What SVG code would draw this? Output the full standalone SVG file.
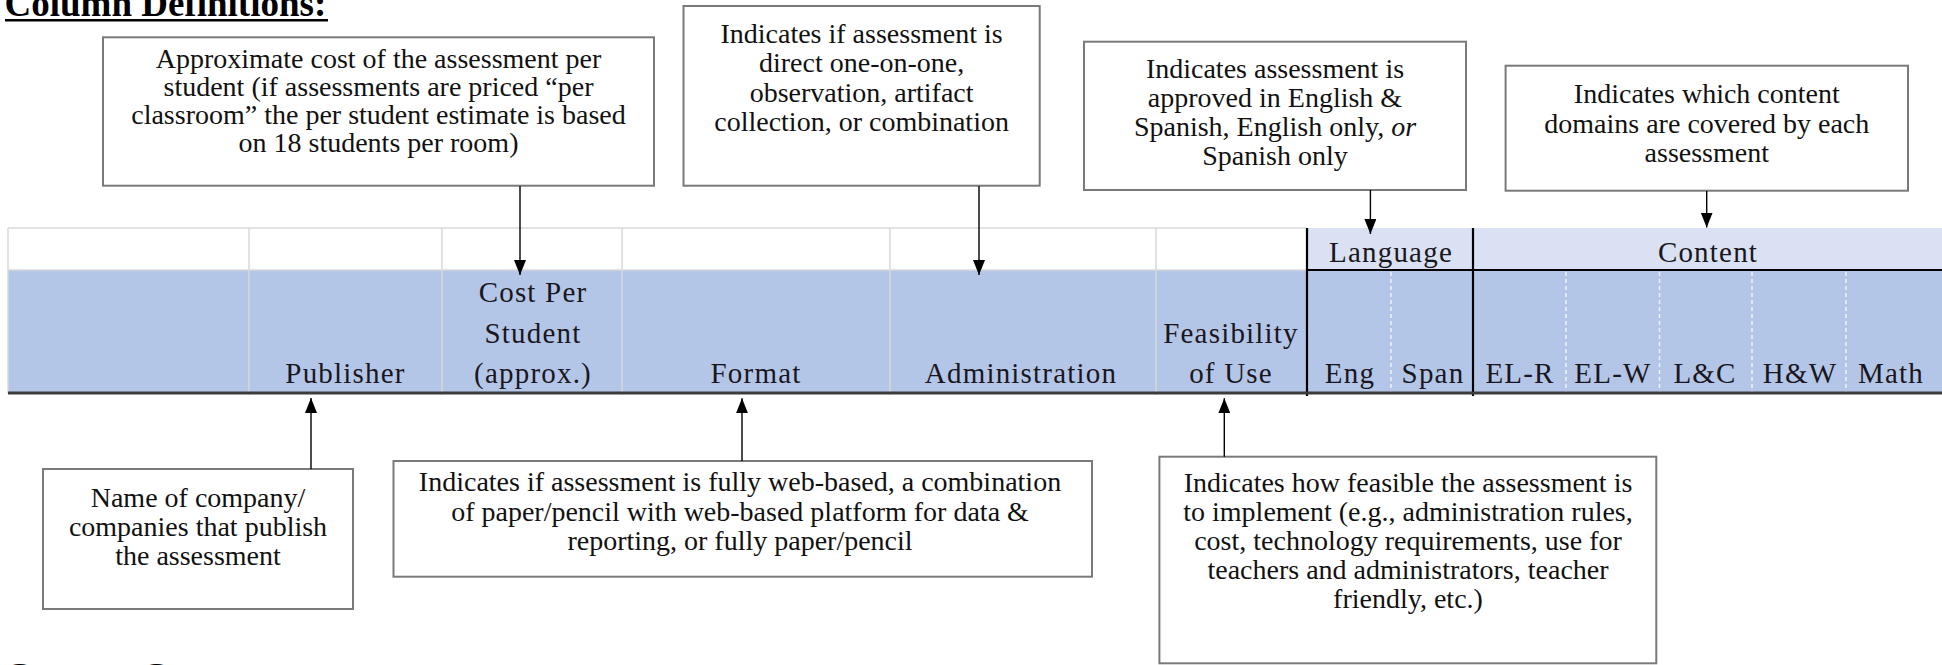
<svg xmlns="http://www.w3.org/2000/svg" width="1942" height="665" viewBox="0 0 1942 665">
<style>
  .box { fill: #ffffff; stroke: #7a7a7a; stroke-width: 2; }
  .bt { font-family: "Liberation Serif", "Times New Roman", serif; font-size: 28px; fill: #111111; text-anchor: middle; }
  .ht { font-family: "Liberation Serif", "Times New Roman", serif; font-size: 29px; letter-spacing: 1.2px; fill: #1a1620; text-anchor: middle; }
  .title { font-family: "Liberation Serif", "Times New Roman", serif; font-size: 37px; font-weight: bold; fill: #000000; }
  .conn { stroke: #000000; stroke-width: 1.4; fill: none; marker-end: url(#arrow); }
  .grid { stroke: #d9d9d9; stroke-width: 1.5; }
  .dash { stroke: #f2f2f2; stroke-width: 1.5; stroke-dasharray: 4 3; }
  .thick { stroke: #000000; stroke-width: 2.2; }
</style>
<defs>
  <marker id="arrow" viewBox="0 0 15 12" markerWidth="15" markerHeight="12" refX="15" refY="6" orient="auto" markerUnits="userSpaceOnUse">
    <path d="M0,0 L15,6 L0,12 z" fill="#000000"/>
  </marker>
</defs>
<rect x="0" y="0" width="1942" height="665" fill="#ffffff"/>

<g id="title">
  <text class="title" x="4.5" y="15.5">Column Definitions:</text>
  <line x1="5" y1="20.3" x2="328" y2="20.3" stroke="#000000" stroke-width="2.6"/>
</g>

<g id="header-table">
  <rect x="8" y="270" width="1934" height="123" fill="#b4c6e7"/>
  <rect x="1307" y="228" width="635" height="42" fill="#d9e1f2"/>
  <line class="grid" x1="8" y1="228" x2="1307" y2="228"/>
  <line class="grid" x1="8" y1="228" x2="8" y2="393"/>
  <line class="grid" x1="249" y1="228" x2="249" y2="395"/>
  <line class="grid" x1="442" y1="228" x2="442" y2="395"/>
  <line class="grid" x1="622" y1="228" x2="622" y2="395"/>
  <line class="grid" x1="890" y1="228" x2="890" y2="395"/>
  <line class="grid" x1="1156" y1="228" x2="1156" y2="395"/>
  <line class="grid" x1="8" y1="270" x2="1307" y2="270" stroke="#e4e4e4"/>
  <line class="dash" x1="1391" y1="272" x2="1391" y2="392"/>
  <line class="dash" x1="1566" y1="272" x2="1566" y2="392"/>
  <line class="dash" x1="1659.5" y1="272" x2="1659.5" y2="392"/>
  <line class="dash" x1="1752" y1="272" x2="1752" y2="392"/>
  <line class="dash" x1="1846" y1="272" x2="1846" y2="392"/>
  <line class="thick" x1="1307" y1="270" x2="1942" y2="270"/>
  <line class="thick" x1="1307" y1="228" x2="1307" y2="396"/>
  <line class="thick" x1="1473" y1="228" x2="1473" y2="396"/>
  <line x1="8" y1="393" x2="1942" y2="393" stroke="#3c3c3c" stroke-width="3"/>
  <text class="ht" x="1391" y="261.7">Language</text>
  <text class="ht" x="1708" y="261.7">Content</text>
  <text class="ht" x="345.5" y="383.3">Publisher</text>
  <text class="ht" x="533" y="301.7">Cost Per</text>
  <text class="ht" x="533" y="342.7">Student</text>
  <text class="ht" x="533" y="383.3">(approx.)</text>
  <text class="ht" x="756" y="383.3">Format</text>
  <text class="ht" x="1021" y="383.3">Administration</text>
  <text class="ht" x="1231" y="343.3">Feasibility</text>
  <text class="ht" x="1231" y="383.3">of Use</text>
  <text class="ht" x="1350" y="383.3">Eng</text>
  <text class="ht" x="1433" y="383.3">Span</text>
  <text class="ht" x="1520" y="383.3">EL-R</text>
  <text class="ht" x="1613" y="383.3">EL-W</text>
  <text class="ht" x="1705" y="383.3">L&amp;C</text>
  <text class="ht" x="1800" y="383.3">H&amp;W</text>
  <text class="ht" x="1891" y="383.3">Math</text>
</g>

<g id="cost-note">
  <rect class="box" x="103" y="37.3" width="551" height="148.4"/>
  <text class="bt" x="378.5" y="68">Approximate cost of the assessment per</text>
  <text class="bt" x="378.5" y="96">student (if assessments are priced “per</text>
  <text class="bt" x="378.5" y="124">classroom” the per student estimate is based</text>
  <text class="bt" x="378.5" y="152">on 18 students per room)</text>
</g>

<g id="administration-note">
  <rect class="box" x="683.5" y="6" width="356.2" height="179.7"/>
  <text class="bt" x="861.6" y="42.5">Indicates if assessment is</text>
  <text class="bt" x="861.6" y="72">direct one-on-one,</text>
  <text class="bt" x="861.6" y="101.5">observation, artifact</text>
  <text class="bt" x="861.6" y="131">collection, or combination</text>
</g>

<g id="language-note">
  <rect class="box" x="1084" y="41.7" width="382" height="148.3"/>
  <text class="bt" x="1275" y="78">Indicates assessment is</text>
  <text class="bt" x="1275" y="107">approved in English &amp;</text>
  <text class="bt" x="1275" y="136">Spanish, English only, <tspan font-style="italic">or</tspan></text>
  <text class="bt" x="1275" y="165">Spanish only</text>
</g>

<g id="content-note">
  <rect class="box" x="1505.6" y="65.7" width="402.4" height="125"/>
  <text class="bt" x="1706.8" y="103">Indicates which content</text>
  <text class="bt" x="1706.8" y="132.5">domains are covered by each</text>
  <text class="bt" x="1706.8" y="162">assessment</text>
</g>

<g id="publisher-note">
  <rect class="box" x="43" y="469" width="310" height="140"/>
  <text class="bt" x="198" y="506.5">Name of company/</text>
  <text class="bt" x="198" y="535.5">companies that publish</text>
  <text class="bt" x="198" y="564.5">the assessment</text>
</g>

<g id="format-note">
  <rect class="box" x="393.5" y="461" width="698.5" height="115.7"/>
  <text class="bt" x="740" y="491">Indicates if assessment is fully web-based, a combination</text>
  <text class="bt" x="740" y="520.5">of paper/pencil with web-based platform for data &amp;</text>
  <text class="bt" x="740" y="550">reporting, or fully paper/pencil</text>
</g>

<g id="feasibility-note">
  <rect class="box" x="1159.4" y="456.7" width="496.9" height="206.6"/>
  <text class="bt" x="1408" y="492">Indicates how feasible the assessment is</text>
  <text class="bt" x="1408" y="521">to implement (e.g., administration rules,</text>
  <text class="bt" x="1408" y="550">cost, technology requirements, use for</text>
  <text class="bt" x="1408" y="579">teachers and administrators, teacher</text>
  <text class="bt" x="1408" y="608">friendly, etc.)</text>
</g>

<g id="next-section-title">
  <text class="title" x="4.5" y="688.5">Content Coverage:</text>
</g>

<g id="connectors">
  <line class="conn" x1="520" y1="186" x2="520" y2="275"/>
  <line class="conn" x1="979" y1="186" x2="979" y2="275"/>
  <line class="conn" x1="1370.4" y1="190" x2="1370.4" y2="234"/>
  <line class="conn" x1="1706.7" y1="191" x2="1706.7" y2="227.5"/>
  <line class="conn" x1="311" y1="469" x2="311" y2="398"/>
  <line class="conn" x1="742" y1="461" x2="742" y2="398.3"/>
  <line class="conn" x1="1224.3" y1="456.7" x2="1224.3" y2="398.3"/>
</g>
</svg>
